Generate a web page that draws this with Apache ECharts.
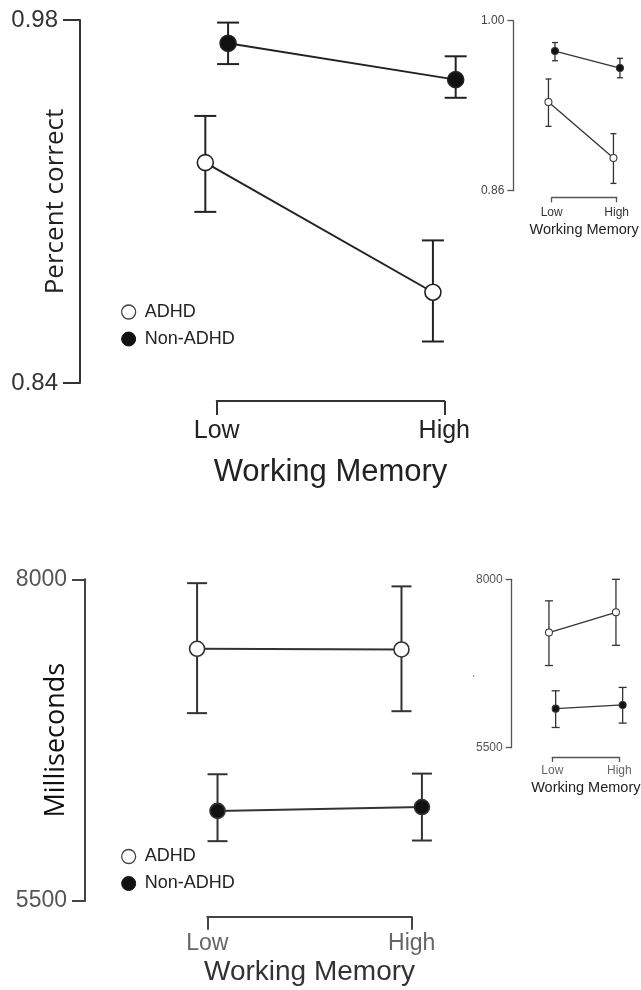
<!DOCTYPE html>
<html>
<head>
<meta charset="utf-8">
<script src="https://cdn.jsdelivr.net/npm/echarts@6/dist/echarts.min.js"></script>
<style>
html,body{margin:0;padding:0;background:#fff;}
#chart{width:641px;height:990px;}
</style>
</head>
<body>
<div id="chart"></div>
<script>
// ---------- data ----------
const categories = ['Low', 'High'];
const seriesNames = ['ADHD', 'Non-ADHD'];

// Top main panel: Percent correct
const pcMainADHD      = [0.925, 0.875];
const pcMainADHDLow   = [0.906, 0.856];
const pcMainADHDHigh  = [0.943, 0.895];
const pcMainNon       = [0.971, 0.957];
const pcMainNonLow    = [0.963, 0.950];
const pcMainNonHigh   = [0.979, 0.966];
const pcMainTicks     = [0.84, 0.98];

// Top inset panel: Percent correct
const pcInsetADHD     = [0.933, 0.887];
const pcInsetADHDLow  = [0.913, 0.866];
const pcInsetADHDHigh = [0.952, 0.907];
const pcInsetNon      = [0.975, 0.961];
const pcInsetNonLow   = [0.967, 0.953];
const pcInsetNonHigh  = [0.982, 0.969];
const pcInsetTicks    = [0.86, 1.00];

// Bottom main panel: Milliseconds
const msMainADHD      = [7460, 7455];
const msMainADHDLow   = [6960, 6975];
const msMainADHDHigh  = [7970, 7945];
const msMainNon       = [6200, 6230];
const msMainNonLow    = [5965, 5970];
const msMainNonHigh   = [6485, 6490];
const msMainTicks     = [5500, 8000];

// Bottom inset panel: Milliseconds
const msInsetADHD     = [7210, 7510];
const msInsetADHDLow  = [6720, 7020];
const msInsetADHDHigh = [7680, 8000];
const msInsetNon      = [6080, 6135];
const msInsetNonLow   = [5800, 5865];
const msInsetNonHigh  = [6345, 6395];
const msInsetTicks    = [5500, 8000];

// ---------- layout / style ----------
const FONT = '"Liberation Sans", Arial, Helvetica, sans-serif';
const NAMEFONT = '"Open Sans", "Liberation Sans", sans-serif';
const DODGE = 0.05;

const panels = [
  { // top main
    axisX: 80, top: 20, bottom: 383, b0: 216.7, b1: 444.3, bracketY: 401,
    ticks: pcMainTicks, fmt: v => v.toFixed(2),
    groups: [[pcMainADHD, pcMainADHDLow, pcMainADHDHigh], [pcMainNon, pcMainNonLow, pcMainNonHigh]],
    yName: 'Percent correct', yNameSize: 26, yNameGap: 11, yNameColor: '#222',
    tickLen: 17, labelMargin: 22, labelSize: 24, labelColor: '#333',
    catSize: 25, catColor: '#222', catMargin: 18, bracketTick: 14,
    xName: 'Working Memory', xNameSize: 31, xNameGap: 56, xNameColor: '#222',
    lineW: 2, lineColor: '#222', sym: 16, cap: 11, axisW: 2, axisColor: '#333'
  },
  { // top inset
    axisX: 513.3, top: 20.7, bottom: 190.7, b0: 551.7, b1: 616.7, bracketY: 197.3,
    ticks: pcInsetTicks, fmt: v => v.toFixed(2),
    groups: [[pcInsetADHD, pcInsetADHDLow, pcInsetADHDHigh], [pcInsetNon, pcInsetNonLow, pcInsetNonHigh]],
    yName: '', tickLen: 6, labelMargin: 9, labelSize: 12, labelColor: '#444',
    catSize: 12, catColor: '#333', catMargin: 9, bracketTick: 5,
    xName: 'Working Memory', xNameSize: 14.5, xNameGap: 25, xNameColor: '#222',
    lineW: 1.3, lineColor: '#333', sym: 7, cap: 3, axisW: 1.3, axisColor: '#555'
  },
  { // bottom main
    axisX: 85, top: 579.3, bottom: 901, b0: 207.3, b1: 411.7, bracketY: 916.7,
    ticks: msMainTicks, fmt: v => String(Math.round(v)),
    groups: [[msMainADHD, msMainADHDLow, msMainADHDHigh], [msMainNon, msMainNonLow, msMainNonHigh]],
    yName: 'Milliseconds', yNameSize: 27, yNameGap: 15, yNameColor: '#111',
    tickLen: 13, labelMargin: 18, labelSize: 23, labelColor: '#555',
    catSize: 23, catColor: '#666', catMargin: 15, bracketTick: 13,
    xName: 'Working Memory', xNameSize: 28, xNameGap: 42, xNameColor: '#333',
    lineW: 2, lineColor: '#333', sym: 15, cap: 10, axisW: 2, axisColor: '#444'
  },
  { // bottom inset
    axisX: 511.7, top: 579.3, bottom: 747.7, b0: 552.3, b1: 619.3, bracketY: 757,
    ticks: msInsetTicks, fmt: v => String(Math.round(v)),
    groups: [[msInsetADHD, msInsetADHDLow, msInsetADHDHigh], [msInsetNon, msInsetNonLow, msInsetNonHigh]],
    yName: '', tickLen: 6, labelMargin: 9, labelSize: 12, labelColor: '#555',
    catSize: 12, catColor: '#666', catMargin: 8, bracketTick: 5,
    xName: 'Working Memory', xNameSize: 14.5, xNameGap: 23, xNameColor: '#222',
    lineW: 1.3, lineColor: '#333', sym: 7, cap: 4, axisW: 1.3, axisColor: '#555'
  }
];

const fills = ['#ffffff', '#111111'];
const offsets = [-DODGE, DODGE];

const option = {
  animation: false,
  backgroundColor: '#ffffff',
  textStyle: { fontFamily: FONT },
  grid: [], xAxis: [], yAxis: [], series: [],
  legend: [],
  graphic: [{ type: 'text', left: 472, top: 668, style: { text: '.', fontSize: 12, fill: '#666', font: '12px ' + FONT } }]
};

panels.forEach(p => {
  const span = p.b1 - p.b0;
  const extra = 30;
  option.grid.push({ left: p.axisX, top: p.top, width: p.b1 - p.axisX + extra, height: p.bottom - p.top,
    containLabel: false, outerBoundsMode: 'none' });
  option.grid.push({ left: p.b0, top: p.bracketY - 10, width: span, height: 10,
    containLabel: false, outerBoundsMode: 'none' });
  const dg = option.grid.length - 2, bg = dg + 1;

  option.xAxis.push({ gridIndex: dg, type: 'value', show: false,
    min: -(p.b0 - p.axisX) / span, max: 1 + extra / span,
    axisLine: { onZero: false } });
  option.yAxis.push({
    gridIndex: dg, type: 'value', min: p.ticks[0], max: p.ticks[1], position: 'left',
    name: p.yName, nameLocation: 'middle', nameRotate: 90, nameGap: p.yNameGap || 10,
    nameMoveOverlap: false,
    nameTextStyle: { fontFamily: NAMEFONT, fontSize: p.yNameSize || 12, color: p.yNameColor || '#222' },
    axisLine: { show: true, onZero: false, lineStyle: { color: p.axisColor, width: p.axisW } },
    axisTick: { show: true, inside: false, length: p.tickLen, customValues: p.ticks,
      lineStyle: { color: p.axisColor, width: p.axisW } },
    axisLabel: { show: true, customValues: p.ticks, margin: p.labelMargin, formatter: p.fmt,
      fontSize: p.labelSize, color: p.labelColor, fontFamily: FONT },
    splitLine: { show: false }
  });
  option.xAxis.push({
    gridIndex: bg, type: 'category', data: categories, boundaryGap: false, position: 'bottom',
    name: p.xName, nameLocation: 'middle', nameGap: p.xNameGap, nameMoveOverlap: false,
    nameTextStyle: { fontFamily: FONT, fontSize: p.xNameSize, color: p.xNameColor },
    axisLine: { show: true, onZero: false, lineStyle: { color: p.axisColor, width: p.axisW } },
    axisTick: { show: true, inside: false, length: p.bracketTick, interval: 0,
      lineStyle: { color: p.axisColor, width: p.axisW } },
    axisLabel: { show: true, interval: 0, margin: p.catMargin, fontSize: p.catSize, color: p.catColor, fontFamily: FONT },
    splitLine: { show: false }
  });
  option.yAxis.push({ gridIndex: bg, type: 'value', show: false, axisLine: { onZero: false } });

  p.groups.forEach((g, gi) => {
    const [vals, lo, hi] = g;
    const off = offsets[gi];
    option.series.push({
      type: 'custom', xAxisIndex: dg, yAxisIndex: dg, z: 2, silent: true,
      encode: { x: 0, y: [1, 2] },
      data: categories.map((c, i) => [i + off, lo[i], hi[i]]),
      renderItem: (params, api) => {
        const a = api.coord([api.value(0), api.value(1)]);
        const b = api.coord([api.value(0), api.value(2)]);
        const st = { stroke: p.lineColor, lineWidth: p.lineW, fill: null };
        return { type: 'group', children: [
          { type: 'line', shape: { x1: a[0], y1: a[1], x2: b[0], y2: b[1] }, style: st },
          { type: 'line', shape: { x1: a[0] - p.cap, y1: a[1], x2: a[0] + p.cap, y2: a[1] }, style: st },
          { type: 'line', shape: { x1: b[0] - p.cap, y1: b[1], x2: b[0] + p.cap, y2: b[1] }, style: st }
        ]};
      }
    });
    option.series.push({
      name: seriesNames[gi], type: 'line', xAxisIndex: dg, yAxisIndex: dg, z: 3,
      data: categories.map((c, i) => [i + off, vals[i]]),
      symbol: 'circle', symbolSize: p.sym, showSymbol: true,
      lineStyle: { color: p.lineColor, width: p.lineW },
      itemStyle: { color: fills[gi], borderColor: p.lineColor, borderWidth: p.lineW * 0.8 }
    });
  });
});

const legendItems = [
  { name: 'ADHD', itemStyle: { color: '#ffffff', borderColor: '#444', borderWidth: 1.3 } },
  { name: 'Non-ADHD', itemStyle: { color: '#111111', borderColor: '#111', borderWidth: 1 } }
];
[[121, 303, '#222'], [121, 847.5, '#222']].forEach(([l, t, c]) => {
  option.legend.push({
    left: l, top: t, orient: 'vertical', icon: 'circle', itemWidth: 14, itemHeight: 14,
    itemGap: 9, padding: 0, selectedMode: false, data: legendItems,
    textStyle: { fontSize: 18, color: c, fontFamily: FONT, padding: [0, 0, 0, 4] }
  });
});

const chart = echarts.init(document.getElementById('chart'), null, { renderer: 'canvas' });
chart.setOption(option);
</script>
</body>
</html>
